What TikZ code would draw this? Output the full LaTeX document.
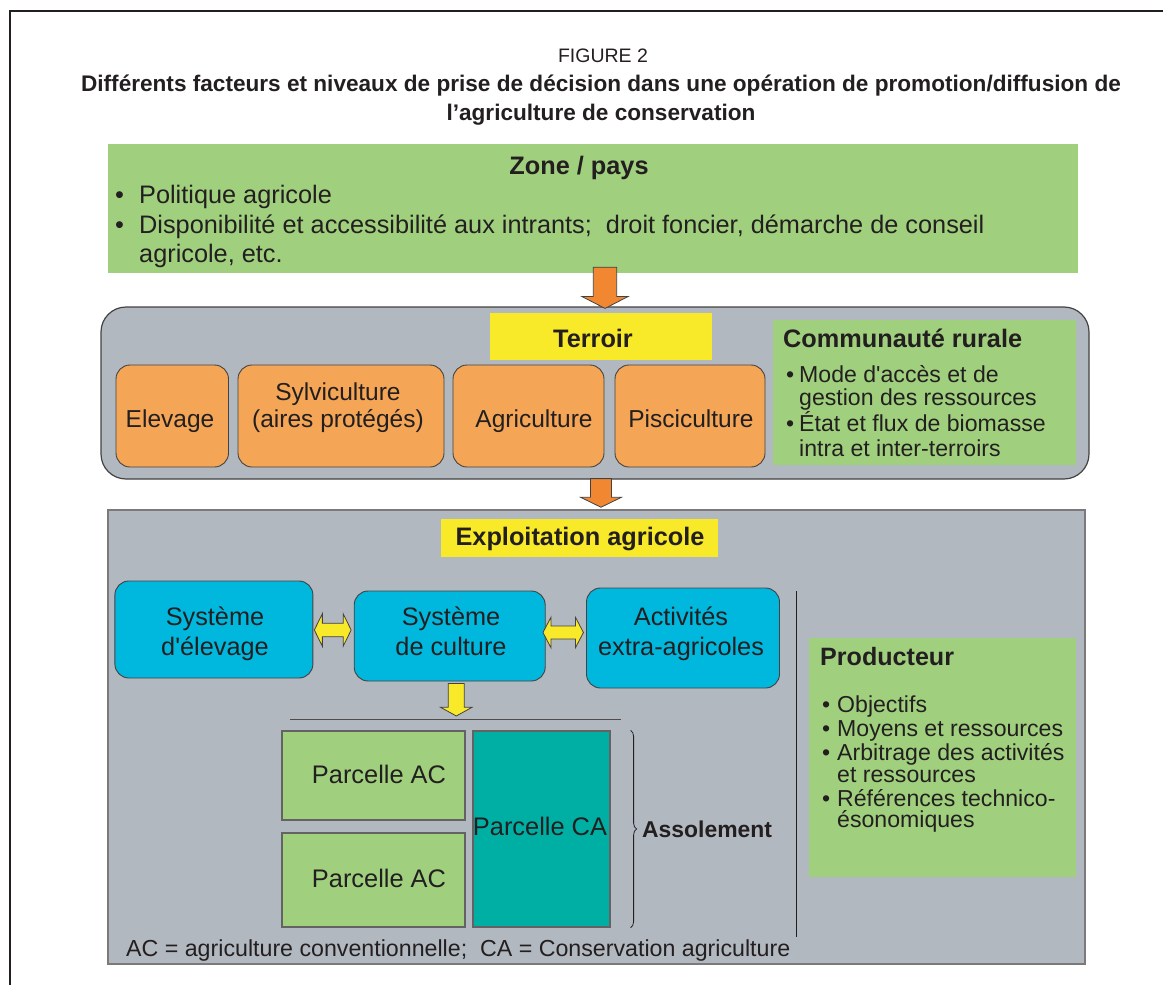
\documentclass[tikz,border=0pt]{standalone}
\usepackage{fontspec}
\setmainfont{Liberation Sans}
\usetikzlibrary{calc,decorations.pathreplacing}
\definecolor{zonegreen}{HTML}{A0D07E}
\definecolor{panelgrey}{HTML}{B2B8BF}
\definecolor{boxorange}{HTML}{F4A656}
\definecolor{arroworange}{HTML}{F28732}
\definecolor{labelyellow}{HTML}{F8EA28}
\definecolor{sysblue}{HTML}{00B7DE}
\definecolor{parcelteal}{HTML}{00AFA3}
\definecolor{ink}{HTML}{231F20}
\newcommand{\sizeto}[2]{\fontsize{#1}{#2}\selectfont}
\newcommand{\downblock}[6]{%
	\path[#1] let \p1=(#2), \p2=(#3) in
		(\x1-#4,\y1) -- (\x1+#4,\y1) -- (\x1+#4,\y2+#6) -- (\x1+#5,\y2+#6) -- (\x1,\y2)
		-- (\x1-#5,\y2+#6) -- (\x1-#4,\y2+#6) -- cycle;}
\newcommand{\sideblock}[6]{%
	\path[#1] let \p1=(#2), \p2=(#3) in
		(\x1,\y1) -- (\x1+#6,\y1+#5) -- (\x1+#6,\y1+#4) -- (\x2-#6,\y1+#4) -- (\x2-#6,\y1+#5)
		-- (\x2,\y1) -- (\x2-#6,\y1-#5) -- (\x2-#6,\y1-#4) -- (\x1+#6,\y1-#4) -- (\x1+#6,\y1-#5) -- cycle;}
\begin{document}
\begin{tikzpicture}[x=1pt, y=-1pt,
		every node/.style={inner sep=0pt, text=ink},
		panel/.style={draw=ink!85, fill=panelgrey, line width=1.2pt},
		greenbox/.style={fill=zonegreen},
		yellowtag/.style={fill=labelyellow},
		orangebox/.style={draw=ink!85, fill=boxorange, rounded corners=14pt, line width=0.9pt},
		bluebox/.style={draw=ink!85, fill=sysblue, rounded corners=14pt, line width=0.9pt},
		parcel/.style={draw=ink!70, line width=1.2pt},
		orangearrow/.style={draw=ink!85, fill=arroworange, line width=0.8pt},
		yellowarrow/.style={draw=ink!85, fill=labelyellow, line width=0.8pt},
		headline/.style={font=\bfseries\sizeto{25.3}{29}},
		boxline/.style={font=\sizeto{24.5}{27}},
		sysline/.style={font=\sizeto{25.3}{30}},
		listline/.style={font=\sizeto{23.1}{25}}]
	\useasboundingbox (0,0) rectangle (1163,985);
	\draw[ink, line width=1.6pt] (10,985) -- (10,11) -- (1163,11);

	\node[anchor=base, font=\sizeto{19.5}{22}] (figno) at (603,62) {FIGURE 2};
	\node[anchor=base, font=\bfseries\sizeto{22.6}{26}] (title1) at (601,91) {Différents facteurs et niveaux de prise de décision dans une opération de promotion/diffusion de};
	\node[anchor=base, font=\bfseries\sizeto{22.6}{26}] (title2) at (601,120) {l’agriculture de conservation};

	\node[greenbox, minimum width=970pt, minimum height=129pt] (zone) at (593,208.5) {};
	\node[anchor=base, headline] (zonehead) at (579,174) {Zone / pays};
	\node[anchor=base west, font=\sizeto{25.3}{29}] (zonea) at (115,203) {\makebox[24pt][l]{\textbullet}Politique agricole};
	\node[anchor=base west, font=\sizeto{25.3}{29}] (zoneb) at (115,233) {\makebox[24pt][l]{\textbullet}Disponibilité et accessibilité aux intrants;~ droit foncier, démarche de conseil};
	\node[anchor=base west, font=\sizeto{25.3}{29}] (zonec) at (139,262) {agricole, etc.};

	\node[panel, rounded corners=25pt, minimum width=988pt, minimum height=172pt] (terroirzone) at (595,393) {};
	\node[yellowtag, minimum width=222pt, minimum height=47pt] (terroir) at (601,336.5) {};
	\node[anchor=base, headline] (terroirtext) at (593,347) {Terroir};
	\node[orangebox, minimum width=112.5pt, minimum height=102pt] (elevage) at (172.25,416) {};
	\node[orangebox, minimum width=206pt, minimum height=102pt] (sylvi) at (341,416) {};
	\node[orangebox, minimum width=151pt, minimum height=102pt] (agri) at (528.5,416) {};
	\node[orangebox, minimum width=150pt, minimum height=102pt] (pisci) at (690,416) {};
	\node[anchor=base, boxline] (elevagetext) at (170,427) {Elevage};
	\node[anchor=base, boxline] (sylvitext) at (338,400) {\begin{tabular}[t]{@{}c@{}}Sylviculture\\(aires protégés)\end{tabular}};
	\node[anchor=base, boxline] (agritext) at (534,427) {Agriculture};
	\node[anchor=base, boxline] (piscitext) at (691,427) {Pisciculture};
	\node[greenbox, minimum width=303pt, minimum height=145pt] (communaute) at (924.5,392.5) {};
	\node[anchor=base west, headline] (communautehead) at (783,347) {Communauté rurale};
	\node[anchor=base west, listline] (communautea) at (786,382) {\makebox[13pt][l]{\textbullet}Mode d\textquotesingle accès et de};
	\node[anchor=base west, listline] (communauteb) at (799,405) {gestion des ressources};
	\node[anchor=base west, listline] (communautec) at (786,431.7) {\makebox[13pt][l]{\textbullet}État et flux de biomasse};
	\node[anchor=base west, listline] (communauted) at (799,456.7) {intra et inter-terroirs};

	\node[draw=ink!60, fill=panelgrey, line width=1.5pt, minimum width=977pt, minimum height=454pt] (exploit) at (596.5,737) {};
	\node[yellowtag, minimum width=277pt, minimum height=38pt] (exploittag) at (579.5,538) {};
	\node[anchor=base, headline] (exploittext) at (580,545) {Exploitation agricole};
	\node[bluebox, minimum width=198pt, minimum height=97pt] (elevsys) at (213.9,629.5) {};
	\node[bluebox, minimum width=191pt, minimum height=90pt] (cultsys) at (449.7,636) {};
	\node[bluebox, minimum width=193pt, minimum height=100pt] (activsys) at (683,638) {};
	\node[anchor=base, sysline] (elevsystext) at (215,625) {\begin{tabular}[t]{@{}c@{}}Système\\d\textquotesingle élevage\end{tabular}};
	\node[anchor=base, sysline] (cultsystext) at (451,625) {\begin{tabular}[t]{@{}c@{}}Système\\de culture\end{tabular}};
	\node[anchor=base, sysline] (activsystext) at (681,625) {\begin{tabular}[t]{@{}c@{}}Activités\\extra-agricoles\end{tabular}};
	\draw[ink!80, line width=1pt] (290,719) -- (621,719);
	\coordinate (assoltop) at (456.3,716);
	\node[parcel, fill=zonegreen, minimum width=183pt, minimum height=89pt] (ac1) at (373.5,775.5) {};
	\node[parcel, fill=zonegreen, minimum width=183pt, minimum height=94pt] (ac2) at (373.5,880) {};
	\node[parcel, fill=parcelteal, minimum width=137pt, minimum height=196pt] (ca) at (541.5,829) {};
	\node[anchor=base, font=\sizeto{25.4}{29}] (ac1text) at (379,783) {Parcelle AC};
	\node[anchor=base, font=\sizeto{25.4}{29}] (ac2text) at (379,887) {Parcelle AC};
	\node[anchor=base, font=\sizeto{25.4}{29}] (catext) at (540,835) {Parcelle CA};
	\draw[ink, line width=0.8pt, decorate, decoration={brace, amplitude=6pt}] ($(ca.north east)+(20,0)$) -- ($(ca.south east)+(20,0)$);
	\node[anchor=base west, font=\bfseries\sizeto{22.9}{27}] (assolement) at (642,837) {Assolement};
	\draw[ink, line width=1pt] (796,591) -- (796,937);
	\node[anchor=base west, font=\sizeto{23.2}{27}] (legend) at (126,956) {AC = agriculture conventionnelle;~ CA = Conservation agriculture};
	\node[greenbox, minimum width=267pt, minimum height=239pt] (producteur) at (942.5,757.5) {};
	\node[anchor=base west, font=\bfseries\sizeto{25.1}{29}] (producteurhead) at (820,665) {Producteur};
	\node[anchor=base west, listline] (producteura) at (822,712.7) {\makebox[15pt][l]{\textbullet}Objectifs};
	\node[anchor=base west, listline] (producteurb) at (822,736) {\makebox[15pt][l]{\textbullet}Moyens et ressources};
	\node[anchor=base west, listline] (producteurc) at (822,760) {\makebox[15pt][l]{\textbullet}Arbitrage des activités};
	\node[anchor=base west, listline] (producteurd) at (837,782) {et ressources};
	\node[anchor=base west, listline] (producteure) at (822,806) {\makebox[15pt][l]{\textbullet}Références technico-};
	\node[anchor=base west, listline] (producteurf) at (837,827.3) {ésonomiques};

	\downblock{orangearrow}{$(zone.south)+(12,-6)$}{$(terroirzone.north)+(10,2)$}{11.7pt}{23.3pt}{12pt}
	\downblock{orangearrow}{$(terroirzone.south)+(6,-1)$}{$(exploit.north)+(4.5,-2)$}{10.5pt}{20.5pt}{10pt}
	\sideblock{yellowarrow}{$(elevsys.east)+(1,0.5)$}{$(cultsys.west)+(-2.6,0)$}{6.7pt}{16.3pt}{8pt}
	\sideblock{yellowarrow}{$(cultsys.east)+(-2.7,-3.5)$}{$(activsys.west)+(-2.6,0)$}{6.5pt}{15.2pt}{8pt}
	\downblock{yellowarrow}{$(cultsys.south)+(6.6,2)$}{assoltop}{8pt}{15.7pt}{8.7pt}
\end{tikzpicture}
\end{document}
